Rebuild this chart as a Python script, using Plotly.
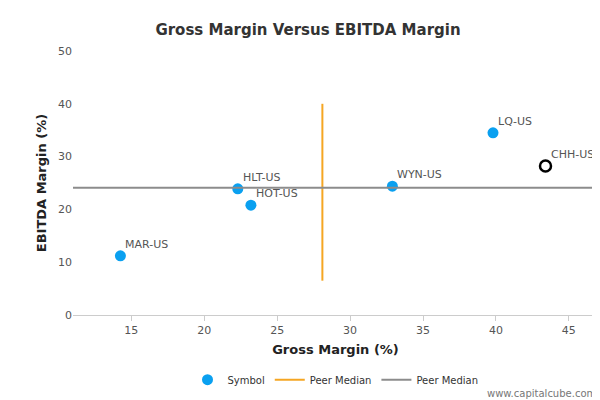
import plotly.graph_objects as go

symbols = ["MAR-US", "HLT-US", "HOT-US", "WYN-US", "LQ-US"]
gross = [14.25, 22.3, 23.2, 32.9, 39.8]
ebitda = [11.2, 23.9, 20.8, 24.4, 34.5]
focus_sym = ["CHH-US"]
focus_x = [43.4]
focus_y = [28.2]
peer_gross_median = 28.1
peer_ebitda_median = 24.1
vline_y = [6.5, 40]
hline_x = [11, 47]

fig = go.Figure()
fig.add_trace(go.Scatter(x=gross, y=ebitda, mode="markers",
    marker=dict(size=11, color="#0aa0f0"), name="Symbol"))
fig.add_trace(go.Scatter(x=[peer_gross_median]*2, y=vline_y, mode="lines",
    line=dict(color="#f5a623", width=2), name="Peer Median"))
fig.add_trace(go.Scatter(x=hline_x, y=[peer_ebitda_median]*2, mode="lines",
    line=dict(color="#8c8c8c", width=2), name="Peer Median"))
fig.add_trace(go.Scatter(x=focus_x, y=focus_y, mode="markers",
    marker=dict(size=11, color="white", line=dict(color="black", width=2.5)),
    showlegend=False))

anns = []
for s, x, y in zip(symbols + focus_sym, gross + focus_x, ebitda + focus_y):
    anns.append(dict(x=x, y=y, text=s, showarrow=False, xanchor="left", yanchor="bottom",
                     xshift=3, yshift=3, font=dict(size=11, color="#555")))
anns.append(dict(text="www.capitalcube.com", xref="paper", yref="paper",
                 x=1.0, y=-0.27, xanchor="right", yanchor="top", showarrow=False,
                 font=dict(size=10, color="#777")))

fig.update_layout(
    width=600, height=400, plot_bgcolor="white", paper_bgcolor="white",
    margin=dict(l=65, r=10, t=43, b=93),
    title=dict(text="<b>Gross Margin Versus EBITDA Margin</b>", x=0.5, y=0.96,
               font=dict(size=15, color="#333", family="DejaVu Sans")),
    font=dict(family="DejaVu Sans", size=11, color="#555"),
    xaxis=dict(title=dict(text="<b>Gross Margin (%)</b>", font=dict(size=13, color="#222"), standoff=8),
               range=[11, 47], dtick=5, showgrid=False, showline=True, automargin=False,
               linecolor="#ccc", ticks="outside", tickcolor="#ccc", zeroline=False),
    yaxis=dict(title=dict(text="<b>EBITDA Margin (%)</b>", font=dict(size=13, color="#222"), standoff=8),
               range=[0, 50], dtick=10, showgrid=False, zeroline=False, automargin=False),
    legend=dict(orientation="h", x=0.5, xanchor="center", y=-0.19, yanchor="top",
                font=dict(size=10, color="#333")),
    annotations=anns,
)
fig.write_html("out.html")
